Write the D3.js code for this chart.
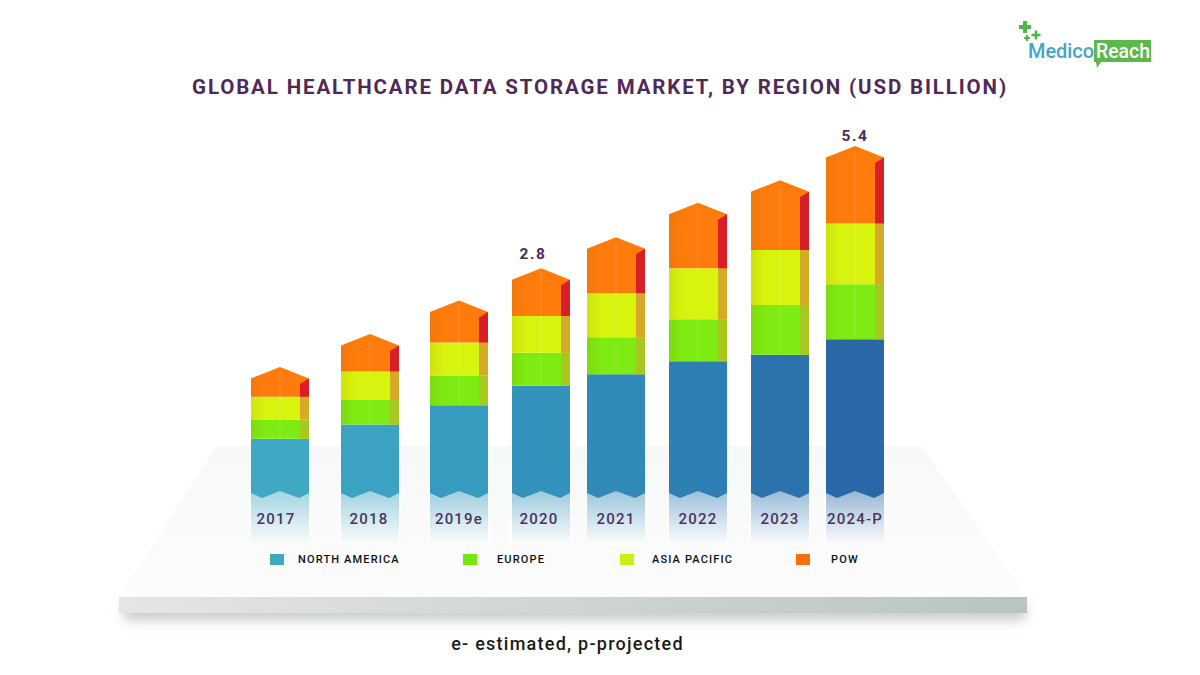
<!DOCTYPE html>
<html>
<head>
<meta charset="utf-8">
<script src="https://cdn.jsdelivr.net/npm/d3@7"></script>
<style>
  html, body { margin: 0; background: #fff; }
  svg { display: block; }
  text { font-family: Roboto, sans-serif; }
</style>
</head>
<body>
<svg id="chart" width="1200" height="675"></svg>
<script>
var years = ["2017", "2018", "2019e", "2020", "2021", "2022", "2023", "2024-P"];
var northAmerica = [0.87, 1.09, 1.39, 1.69, 1.87, 2.07, 2.17, 2.41];
var europe = [0.30, 0.38, 0.46, 0.51, 0.57, 0.65, 0.77, 0.85];
var asiaPacific = [0.35, 0.44, 0.51, 0.57, 0.68, 0.79, 0.85, 0.94];
var pow = [0.46, 0.58, 0.65, 0.74, 0.87, 1.01, 1.08, 1.20];
var totalLabels = ["", "", "", "2.8", "", "", "", "5.4"];
var regionKeys = ["na", "eu", "ap", "pow"];
var regionNames = ["NORTH AMERICA", "EUROPE", "ASIA PACIFIC", "POW"];

var svg = d3.select("#chart");
var defs = svg.append("defs");

// bars are unevenly spaced in the picture
var barW = 58;
var x = d3.scaleOrdinal().domain(years).range([251, 341, 430, 512, 587, 669, 751, 826]);
var y = d3.scaleLinear().domain([0, 5.4]).range([495, 146]);

var rows = years.map(function(yr, i) {
  return { year: yr, na: northAmerica[i], eu: europe[i], ap: asiaPacific[i], pow: pow[i] };
});
var series = d3.stack().keys(regionKeys)(rows);

// blue gets darker from first bar to last
var naColor = d3.scaleLinear().domain([0, 3, 5, 7]).range(["#3fa9c4", "#3393bc", "#2e7fb3", "#2a67a7"]);
var frontColor = d3.scaleOrdinal().domain(regionKeys).range(["#000", "#7eec12", "#d8f40e", "#ff7c0c"]);
var sideColor = d3.scaleOrdinal().domain(regionKeys).range(["none", "#a9c81f", "#d4aa26", "#d81f27"]);
var legendColor = d3.scaleOrdinal().domain(regionKeys).range(["#3fa9c4", "#74e80e", "#cdef10", "#fb6f08"]);

// ----- gradients and filters
var shade = defs.append("linearGradient").attr("id", "shade");
shade.append("stop").attr("offset", "0").attr("stop-color", "#8a5a00").attr("stop-opacity", 0.12);
shade.append("stop").attr("offset", "0.25").attr("stop-color", "#8a5a00").attr("stop-opacity", 0);
shade.append("stop").attr("offset", "1").attr("stop-color", "#8a5a00").attr("stop-opacity", 0);

var floorGrad = defs.append("linearGradient").attr("id", "floor").attr("x2", 0).attr("y2", 1);
floorGrad.append("stop").attr("offset", "0").attr("stop-color", "#f7f8f8");
floorGrad.append("stop").attr("offset", "1").attr("stop-color", "#fcfcfc");

var slabGrad = defs.append("linearGradient").attr("id", "slab");
slabGrad.append("stop").attr("offset", "0").attr("stop-color", "#e3e6e6");
slabGrad.append("stop").attr("offset", "1").attr("stop-color", "#b9c4c1");

defs.append("filter").attr("id", "blur").attr("x", "-10%").attr("y", "-200%").attr("width", "120%").attr("height", "500%")
  .append("feGaussianBlur").attr("stdDeviation", 6);

years.forEach(function(yr, i) {
  var g = defs.append("linearGradient").attr("id", "refl" + i).attr("x2", 0).attr("y2", 1);
  g.append("stop").attr("offset", "0").attr("stop-color", naColor(i)).attr("stop-opacity", 0.5);
  g.append("stop").attr("offset", "0.7").attr("stop-color", naColor(i)).attr("stop-opacity", 0.14);
  g.append("stop").attr("offset", "1").attr("stop-color", naColor(i)).attr("stop-opacity", 0);
});

// ----- platform
svg.append("rect").attr("x", 124).attr("y", 604).attr("width", 902).attr("height", 16)
  .attr("fill", "#9a9e9d").attr("opacity", 0.55).attr("filter", "url(#blur)");
svg.append("path").attr("d", "M217,446L921,446L1027,597L119,597Z").attr("fill", "url(#floor)");
svg.append("rect").attr("x", 119).attr("y", 597).attr("width", 908).attr("height", 16).attr("fill", "url(#slab)");

// ----- reflections under the bars
svg.append("g").selectAll("rect").data(years).enter().append("rect")
  .attr("x", function(d) { return x(d) - 2; })
  .attr("y", 490).attr("width", barW + 4).attr("height", 56)
  .attr("fill", "#fff").attr("opacity", 0.45);
svg.append("g").selectAll("rect").data(years).enter().append("rect")
  .attr("x", function(d) { return x(d); })
  .attr("y", 488).attr("width", barW).attr("height", 57)
  .attr("fill", function(d, i) { return "url(#refl" + i + ")"; });

// ----- stacked bars
function segmentPath(key, d, i) {
  var l = x(d.data.year), r = l + barW, c = l + barW / 2;
  var top = y(d[1]), bot = y(d[0]);
  if (key == "na") {
    // zigzag foot of the column
    return "M" + l + "," + top + "L" + r + "," + top + "L" + r + "," + (bot - 2) +
      "L" + (r - barW * 0.17) + "," + (bot + 3) + "L" + c + "," + (bot - 4) +
      "L" + (l + barW * 0.19) + "," + (bot + 3) + "L" + l + "," + (bot - 2) + "Z";
  }
  if (key == "pow") {
    // roof: top of the stack is the apex
    return "M" + l + "," + bot + "L" + l + "," + (top + 11.5) + "L" + c + "," + top +
      "L" + r + "," + (top + 11.5) + "L" + r + "," + bot + "Z";
  }
  return "M" + l + "," + top + "L" + r + "," + top + "L" + r + "," + bot + "L" + l + "," + bot + "Z";
}

function sidePath(key, d) {
  var r = x(d.data.year) + barW, l = r - 9;
  var top = y(d[1]), bot = y(d[0]);
  if (key == "pow") {
    return "M" + l + "," + bot + "L" + l + "," + (top + 17) + "L" + r + "," + (top + 11.5) + "L" + r + "," + bot + "Z";
  }
  return "M" + l + "," + top + "L" + r + "," + top + "L" + r + "," + bot + "L" + l + "," + bot + "Z";
}

var layers = svg.append("g").selectAll("g").data(series).enter().append("g");

layers.each(function(s) {
  var key = s.key, g = d3.select(this);
  g.selectAll("path.front").data(s).enter().append("path").attr("class", "front")
    .attr("d", function(d, i) { return segmentPath(key, d, i); })
    .attr("fill", function(d, i) { return key == "na" ? naColor(i) : frontColor(key); });
  if (key != "na") {
    g.selectAll("path.tone").data(s).enter().append("path").attr("class", "tone")
      .attr("d", function(d, i) { return segmentPath(key, d, i); })
      .attr("fill", "url(#shade)");
    g.selectAll("path.side").data(s).enter().append("path").attr("class", "side")
      .attr("d", function(d) { return sidePath(key, d); })
      .attr("fill", sideColor(key));
    // faint seam down the middle of each block
    g.selectAll("line").data(s).enter().append("line")
      .attr("x1", function(d) { return x(d.data.year) + barW / 2; })
      .attr("x2", function(d) { return x(d.data.year) + barW / 2; })
      .attr("y1", function(d) { return y(d[1]) + (key == "pow" ? 4 : 0); })
      .attr("y2", function(d) { return y(d[0]); })
      .attr("stroke", "#fff").attr("stroke-opacity", 0.14);
  }
});

// ----- value labels on two bars
svg.append("g").selectAll("text").data(rows).enter().append("text")
  .attr("x", function(d) { return x(d.year) + barW / 2 + (d.year == "2020" ? -8 : 0); })
  .attr("y", function(d) { return y(d.na + d.eu + d.ap + d.pow) - (d.year == "2020" ? 9 : 5); })
  .attr("text-anchor", "middle")
  .attr("font-size", 15.5).attr("font-weight", 700).attr("letter-spacing", 1.5)
  .attr("fill", "#4b2c5e")
  .text(function(d, i) { return totalLabels[i]; });

// ----- year labels
svg.append("g").selectAll("text").data(years).enter().append("text")
  .attr("x", function(d) { return x(d) + barW / 2 + (d == "2017" ? -4 : d == "2018" ? -1 : d == "2020" ? -2 : 0); })
  .attr("y", 524)
  .attr("text-anchor", "middle")
  .attr("font-size", 15).attr("font-weight", 500).attr("letter-spacing", 1.2)
  .attr("fill", "#4a3560")
  .text(function(d) { return d; });

// ----- title and footnote
svg.append("text").attr("x", 600).attr("y", 94).attr("text-anchor", "middle")
  .attr("font-size", 20.5).attr("font-weight", 700).attr("letter-spacing", 1.86)
  .attr("fill", "#4f2a58")
  .text("GLOBAL HEALTHCARE DATA STORAGE MARKET, BY REGION (USD BILLION)");

svg.append("text").attr("x", 567.5).attr("y", 650).attr("text-anchor", "middle")
  .attr("font-size", 18).attr("font-weight", 500).attr("letter-spacing", 1.25)
  .attr("fill", "#1a1a1a")
  .text("e- estimated, p-projected");

// ----- legend
var legendSwatch = d3.scaleOrdinal().domain(regionKeys).range([270, 463, 620, 796]);
var legendText = d3.scaleOrdinal().domain(regionKeys).range([298, 497, 652, 831]);
var legend = svg.append("g").selectAll("g").data(regionKeys).enter().append("g");
legend.append("rect")
  .attr("x", function(d) { return legendSwatch(d); })
  .attr("y", 554).attr("width", 14).attr("height", 11)
  .attr("fill", function(d) { return legendColor(d); });
legend.append("text")
  .attr("x", function(d) { return legendText(d); })
  .attr("y", 563)
  .attr("font-size", 11).attr("font-weight", 500).attr("letter-spacing", 1.15)
  .attr("fill", "#111")
  .text(function(d, i) { return regionNames[i]; });

// ----- logo
var logo = svg.append("g");
var plusses = [[1025, 27, 12, 4], [1036, 35, 9, 2.6], [1027, 38, 6, 2]];
plusses.forEach(function(p) {
  logo.append("rect").attr("x", p[0] - p[2] / 2).attr("y", p[1] - p[3] / 2).attr("width", p[2]).attr("height", p[3]).attr("fill", "#4cb748");
  logo.append("rect").attr("x", p[0] - p[3] / 2).attr("y", p[1] - p[2] / 2).attr("width", p[3]).attr("height", p[2]).attr("fill", "#4cb748");
});
logo.append("path").attr("d", "M1094,40L1151,40L1151,62L1101,62L1097,68L1096,62L1094,62Z").attr("fill", "#5cb848");
logo.append("text").attr("x", 1028).attr("y", 58).attr("font-size", 21).attr("font-weight", 500).attr("textLength", 66)
  .attr("lengthAdjust", "spacingAndGlyphs").attr("fill", "#3fa6c8").text("Medico");
logo.append("text").attr("x", 1096).attr("y", 58).attr("font-size", 21).attr("font-weight", 500).attr("textLength", 54)
  .attr("lengthAdjust", "spacingAndGlyphs").attr("fill", "#fff").text("Reach");
</script>
</body>
</html>
